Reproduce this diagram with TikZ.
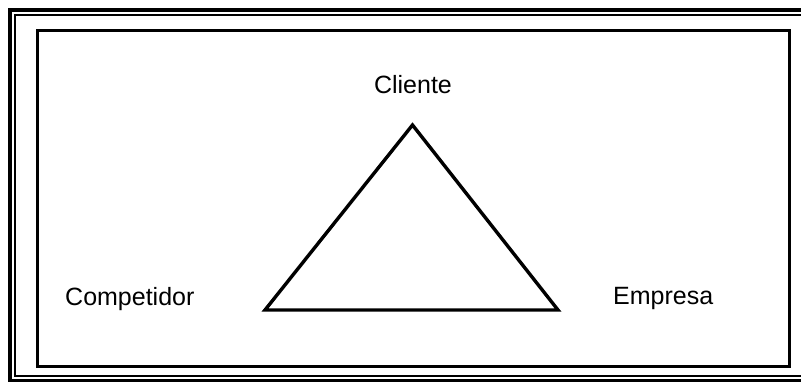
\documentclass[tikz,border=0pt]{standalone}
\usepackage{fontspec}
\setmainfont{Liberation Sans}
\begin{document}
\begin{tikzpicture}[x=1pt,y=-1pt,
  lbl/.style={inner sep=0pt,font=\fontsize{25}{28}\selectfont},
  edge/.style={line width=3.4pt,line join=miter}]
\useasboundingbox (0,0) rectangle (801,381);
\fill[white] (0,0) rectangle (801,381);
% outer double frame
\draw[line width=4pt] (10,9.5) rectangle (812,380.5);
\draw[line width=2pt] (15,14.5) rectangle (808,375.5);
% inner frame
\draw[line width=3pt] (37.5,30.5) rectangle (789.5,366.5);
% triangle vertices
\coordinate (top) at (412.5,125);
\coordinate (bl) at (265,310);
\coordinate (br) at (558,310);
\draw[edge] (top) -- (bl) -- (br) -- cycle;
% labels
\node[lbl,anchor=base] (cliente) at (413,93) {Cliente};
\node[lbl,anchor=base west] (competidor) at (65,305) {Competidor};
\node[lbl,anchor=base west] (empresa) at (613,304) {Empresa};
\end{tikzpicture}
\end{document}
